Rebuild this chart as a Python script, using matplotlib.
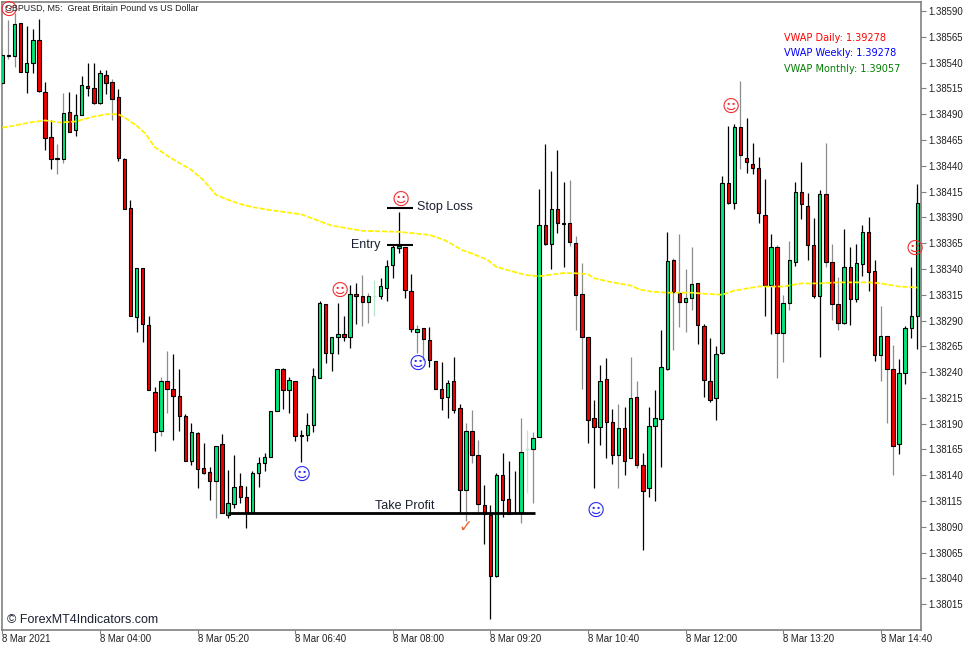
import numpy as np
import matplotlib
matplotlib.use("Agg")
import matplotlib.pyplot as plt

# GBPUSD M5 candles, prices
opens = [1.38520,1.38546,1.38546,1.38578,1.38531,1.38540,1.38562,1.38512,1.38468,1.38448,
         1.38447,1.38492,1.38475,1.38489,1.38517,1.38515,1.38501,1.38528,1.38521,1.38507,
         1.38447,1.38399,1.38293,1.38341,1.38286,1.38221,1.38183,1.38231,1.38224,1.38217,
         1.38197,1.38154,1.38181,1.38147,1.38143,1.38134,1.38170,1.38101,1.38112,1.38130,
         1.38119,1.38103,1.38142,1.38152,1.38158,1.38202,1.38243,1.38223,1.38231,1.38178,
         1.38179,1.38189,1.38234,1.38306,1.38259,1.38274,1.38277,1.38274,1.38316,1.38314,
         1.38308,1.38314,1.38314,1.38322,1.38344,1.38360,1.38361,1.38319,1.38279,1.38283,
         1.38271,1.38251,1.38224,1.38216,1.38231,1.38205,1.38126,1.38183,1.38160,1.38111,
         1.38101,1.38042,1.38140,1.38117,1.38103,1.38103,1.38165,1.38165,1.38177,1.38383,
         1.38364,1.38398,1.38384,1.38385,1.38365,1.38316,1.38274,1.38196,1.38187,1.38233,
         1.38192,1.38160,1.38186,1.38157,1.38216,1.38150,1.38128,1.38188,1.38195,1.38243,
         1.38349,1.38317,1.38308,1.38312,1.38326,1.38285,1.38231,1.38215,1.38259,1.38423,
         1.38404,1.38478,1.38448,1.38442,1.38438,1.38392,1.38324,1.38361,1.38278,1.38307,
         1.38347,1.38415,1.38401,1.38363,1.38314,1.38413,1.38347,1.38306,1.38288,1.38342,
         1.38311,1.38345,1.38376,1.38338,1.38257,1.38275,1.38243,1.38170,1.38239,1.38283,1.38294]
highs = [1.38547,1.38581,1.38588,1.38578,1.38576,1.38573,1.38582,1.38521,1.38484,1.38461,
         1.38511,1.38512,1.38510,1.38527,1.38540,1.38540,1.38533,1.38533,1.38524,1.38514,
         1.38448,1.38407,1.38341,1.38341,1.38294,1.38226,1.38235,1.38260,1.38258,1.38243,
         1.38199,1.38191,1.38182,1.38171,1.38148,1.38168,1.38180,1.38145,1.38160,1.38142,
         1.38130,1.38144,1.38158,1.38162,1.38202,1.38243,1.38244,1.38235,1.38231,1.38184,
         1.38200,1.38244,1.38309,1.38306,1.38274,1.38307,1.38294,1.38324,1.38326,1.38334,
         1.38317,1.38329,1.38331,1.38349,1.38363,1.38395,1.38361,1.38335,1.38286,1.38283,
         1.38284,1.38251,1.38250,1.38232,1.38255,1.38209,1.38191,1.38203,1.38174,1.38131,
         1.38111,1.38142,1.38162,1.38154,1.38144,1.38196,1.38184,1.38182,1.38418,1.38461,
         1.38435,1.38455,1.38424,1.38426,1.38372,1.38346,1.38274,1.38213,1.38247,1.38254,
         1.38204,1.38209,1.38206,1.38255,1.38231,1.38162,1.38206,1.38223,1.38281,1.38376,
         1.38351,1.38374,1.38340,1.38361,1.38326,1.38287,1.38273,1.38265,1.38430,1.38479,
         1.38481,1.38522,1.38486,1.38462,1.38449,1.38427,1.38374,1.38363,1.38315,1.38367,
         1.38424,1.38444,1.38414,1.38389,1.38417,1.38462,1.38364,1.38332,1.38379,1.38361,
         1.38364,1.38383,1.38390,1.38349,1.38304,1.38275,1.38266,1.38253,1.38285,1.38342,1.38422]
lows = [1.38520,1.38544,1.38536,1.38531,1.38511,1.38530,1.38512,1.38455,1.38437,1.38432,
        1.38443,1.38473,1.38469,1.38489,1.38508,1.38500,1.38500,1.38510,1.38484,1.38445,
        1.38398,1.38294,1.38279,1.38269,1.38223,1.38164,1.38178,1.38200,1.38174,1.38183,
        1.38154,1.38150,1.38128,1.38141,1.38116,1.38099,1.38103,1.38099,1.38108,1.38113,
        1.38089,1.38103,1.38129,1.38144,1.38158,1.38202,1.38204,1.38200,1.38173,1.38153,
        1.38173,1.38182,1.38234,1.38249,1.38241,1.38258,1.38270,1.38263,1.38287,1.38285,
        1.38288,1.38294,1.38311,1.38309,1.38331,1.38355,1.38312,1.38279,1.38259,1.38252,
        1.38245,1.38224,1.38203,1.38196,1.38200,1.38103,1.38096,1.38152,1.38103,1.38073,
        1.38001,1.38041,1.38100,1.38102,1.38103,1.38094,1.38123,1.38113,1.38177,1.38363,
        1.38340,1.38375,1.38342,1.38362,1.38281,1.38224,1.38171,1.38128,1.38169,1.38157,
        1.38151,1.38128,1.38140,1.38157,1.38147,1.38068,1.38119,1.38115,1.38148,1.38242,
        1.38261,1.38284,1.38279,1.38300,1.38267,1.38216,1.38211,1.38194,1.38258,1.38403,
        1.38398,1.38437,1.38433,1.38432,1.38385,1.38294,1.38277,1.38234,1.38250,1.38300,
        1.38343,1.38388,1.38349,1.38312,1.38255,1.38342,1.38291,1.38281,1.38287,1.38286,
        1.38308,1.38333,1.38319,1.38251,1.38231,1.38191,1.38140,1.38161,1.38228,1.38273,1.38262]
closes = [1.38547,1.38547,1.38577,1.38531,1.38540,1.38562,1.38513,1.38467,1.38447,1.38447,
          1.38491,1.38473,1.38489,1.38518,1.38515,1.38501,1.38530,1.38520,1.38505,1.38448,
          1.38398,1.38294,1.38341,1.38287,1.38223,1.38182,1.38231,1.38224,1.38217,1.38197,
          1.38154,1.38182,1.38146,1.38142,1.38134,1.38168,1.38103,1.38113,1.38129,1.38119,
          1.38103,1.38142,1.38152,1.38158,1.38202,1.38243,1.38223,1.38232,1.38178,1.38179,
          1.38189,1.38236,1.38307,1.38259,1.38274,1.38277,1.38274,1.38316,1.38314,1.38308,
          1.38314,1.38314,1.38323,1.38343,1.38361,1.38362,1.38320,1.38282,1.38282,1.38272,
          1.38252,1.38224,1.38215,1.38229,1.38203,1.38126,1.38183,1.38160,1.38112,1.38102,
          1.38042,1.38140,1.38116,1.38102,1.38103,1.38163,1.38165,1.38176,1.38383,1.38364,
          1.38398,1.38385,1.38385,1.38366,1.38315,1.38274,1.38194,1.38187,1.38231,1.38192,
          1.38160,1.38186,1.38154,1.38215,1.38150,1.38125,1.38188,1.38196,1.38245,1.38348,
          1.38318,1.38308,1.38312,1.38325,1.38286,1.38232,1.38213,1.38258,1.38423,1.38404,
          1.38478,1.38450,1.38444,1.38438,1.38394,1.38324,1.38361,1.38278,1.38307,1.38349,
          1.38415,1.38403,1.38363,1.38314,1.38413,1.38347,1.38306,1.38288,1.38342,1.38311,
          1.38346,1.38376,1.38337,1.38257,1.38275,1.38243,1.38168,1.38239,1.38283,1.38294,1.38404]

# yellow VWAP line
vwap_bars = [0,2,4.5,7,9.5,12,14.5,17,19,20,22,23.5,25,27.5,31,33,35,37,39,41,44,49,54,59,65,70,
             72.5,74,75.5,77,79.5,81,84,86,88,92,93.5,96,97,100,103,104.5,106.5,109,113,115,118,
             120,124,128,131,134,137,142,144,147,150]
vwap_prices = [1.38477,1.38479,1.38482,1.38484,1.38482,1.38483,1.38487,1.38490,1.38490,1.38487,
               1.38479,1.38471,1.38458,1.38448,1.38436,1.38426,1.38412,1.38407,1.38403,1.38400,
               1.38397,1.38393,1.38382,1.38377,1.38376,1.38373,1.38368,1.38363,1.38358,1.38355,
               1.38349,1.38342,1.38337,1.38334,1.38333,1.38336,1.38336,1.38335,1.38331,1.38327,
               1.38324,1.38320,1.38318,1.38317,1.38317,1.38316,1.38315,1.38319,1.38323,1.38323,
               1.38326,1.38326,1.38327,1.38327,1.38326,1.38323,1.38322]

# wicks that look gray on the screenshot, and two washed out dojis
gray_wicks = [1,2,9,10,18,26,27,35,59,60,68,69,76,77,78,85,87,93,94,95,101,103,104,110,111,112,113,
              121,127,128,129,135,136,137,144,145,146]
pale_bars = [61,86]

xtick_bars = [0,16,32,48,64,80,96,112,128,144]
xtick_labels = ["8 Mar 2021","8 Mar 04:00","8 Mar 05:20","8 Mar 06:40","8 Mar 08:00",
                "8 Mar 09:20","8 Mar 10:40","8 Mar 12:00","8 Mar 13:20","8 Mar 14:40"]
yticks = [1.38590,1.38565,1.38540,1.38515,1.38490,1.38465,1.38440,1.38415,1.38390,1.38365,1.38340,
          1.38315,1.38290,1.38265,1.38240,1.38215,1.38190,1.38165,1.38140,1.38115,1.38090,1.38065,
          1.38040,1.38015]

# trade markup
red_smiles_x = [55.3,65.3,119.4,149.5,1.0]
red_smiles_y = [1.38319,1.38407,1.38497,1.38359,1.38591]
blue_smiles_x = [49.1,68.1,97.3]
blue_smiles_y = [1.38140,1.38248,1.38105]
stop_level = 1.38399
entry_level = 1.38363
target_level = 1.38103

W, H = 977, 650
FRAME = "#808080"
UP = "#00E878"
DOWN = "#F00000"

fig = plt.figure(figsize=(W / 100, H / 100), dpi=100, facecolor="white")
ax = fig.add_axes([2 / W, 1 - 630 / H, 919 / W, 628 / H])
ax.set_xlim(-0.05, 150.6)
ax.set_ylim(1.37990, 1.385988)

opens = np.array(opens)
closes = np.array(closes)
bars = np.arange(len(opens))
up = closes >= opens

wick_colors = ["#8c8c8c" if b in gray_wicks else "black" for b in bars]
for b in pale_bars:
    wick_colors[b] = "#b8e6cb"
ax.vlines(bars, lows, highs, colors=wick_colors, linewidth=0.9, zorder=2)

body_colors = [UP if u else DOWN for u in up]
edge_colors = ["#b8e6cb" if b in pale_bars else "black" for b in bars]
ax.bar(bars, np.abs(closes - opens), bottom=np.minimum(opens, closes), width=0.56,
       color=body_colors, edgecolor=edge_colors, linewidth=0.8, zorder=3)

ax.plot(vwap_bars, vwap_prices, color="#FFF200", linewidth=1.25, linestyle=(0, (3, 1)), zorder=4)

# stop / entry / target lines
ax.hlines([stop_level, entry_level], 63.1, 67.3, colors="black", linewidth=1.5, zorder=5)
ax.hlines(target_level, 37, 87.3, colors="black", linewidth=2, zorder=5)
ax.text(68, 1.38400, "Stop Loss", fontsize=9, family="Liberation Sans", va="center", color="#1a2030")
ax.text(62, 1.38363, "Entry", fontsize=9, family="Liberation Sans", va="center", ha="right", color="#1a2030")
ax.text(66, 1.38110, "Take Profit", fontsize=9, family="Liberation Sans", va="center", ha="center", color="#1a2030")

for x, y in zip(red_smiles_x, red_smiles_y):
    ax.text(x, y, "\u263a", color="#f03030", fontsize=12.5, ha="center", va="center",
            family="DejaVu Sans", zorder=6)
for x, y in zip(blue_smiles_x, blue_smiles_y):
    ax.text(x, y, "\u263a", color="#2a2af0", fontsize=12.5, ha="center", va="center",
            family="DejaVu Sans", zorder=6)
ax.text(76, 1.38090, "\u2713", color="#e8622a", fontsize=12, ha="center", va="center", family="DejaVu Sans")

for side in ax.spines.values():
    side.set_color(FRAME)
    side.set_linewidth(1.2)
ax.yaxis.tick_right()
ax.set_yticks(yticks)
ax.set_yticklabels(["%.5f" % v for v in yticks], fontsize=6.9, family="Liberation Sans", color="#202020")
ax.set_xticks(xtick_bars)
ax.set_xticklabels(xtick_labels, fontsize=6.9, family="Liberation Sans", color="#202020", ha="left")
ax.tick_params(axis="y", length=3.5, width=0.8, color=FRAME, pad=2)
ax.tick_params(axis="x", length=3, width=0.8, color=FRAME, pad=0)

fig.text(5 / W, 1 - 8 / H, "GBPUSD, M5:  Great Britain Pound vs US Dollar", fontsize=6.4,
         family="Liberation Sans", va="center", color="#202020")
fig.text(784 / W, 1 - 38 / H, "VWAP Daily: 1.39278", fontsize=7, family="DejaVu Sans", va="center", color="#FF0000")
fig.text(784 / W, 1 - 53.5 / H, "VWAP Weekly: 1.39278", fontsize=7, family="DejaVu Sans", va="center", color="#0000FF")
fig.text(784 / W, 1 - 69 / H, "VWAP Monthly: 1.39057", fontsize=7, family="DejaVu Sans", va="center", color="#008000")
fig.text(7 / W, 1 - 620 / H, "\u00a9 ForexMT4Indicators.com", fontsize=9, family="Liberation Sans", va="center", color="#1a2030")

fig.savefig("out.png", dpi=100)
plt.close(fig)
